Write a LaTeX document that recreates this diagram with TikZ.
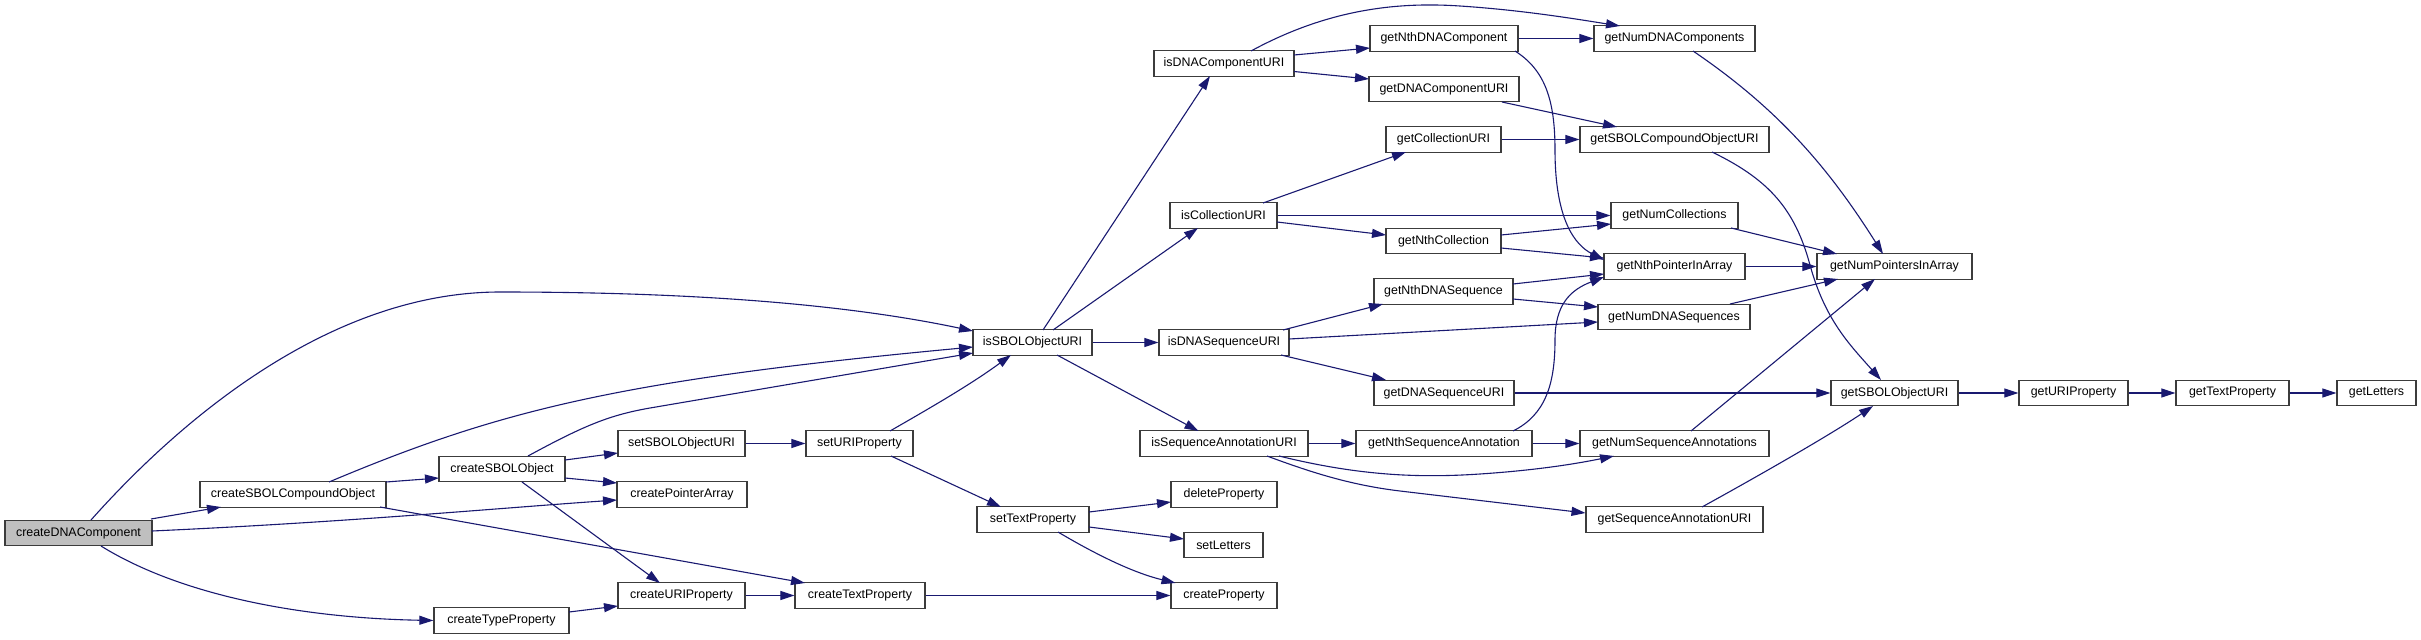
\documentclass[tikz,border=0pt]{standalone}
\usepackage{fontspec}
\setmainfont{Liberation Sans}
\usetikzlibrary{arrows.meta,calc}
\definecolor{edgec}{RGB}{25,25,112}
\definecolor{boxb}{RGB}{60,60,60}
\definecolor{rootfill}{RGB}{191,191,191}
\begin{document}
\begin{tikzpicture}[x=1pt,y=-1pt,
  box/.style={draw=boxb,line width=1.3pt,fill=white,rectangle,minimum height=25.5pt,inner sep=0pt,font=\fontsize{12.4}{14}\selectfont},
  root/.style={box,fill=rootfill},
  e/.style={draw=edgec,line width=1.1pt,-{Triangle[length=14pt,width=9pt]}}]
\useasboundingbox (0,0) rectangle (2421,640);
% nodes
\node[root,minimum width=147pt] (cDNA) at (78.5,533) {createDNAComponent};
\node[box,minimum width=186pt] (cSCO) at (293,494.5) {createSBOLCompoundObject};
\node[box,minimum width=126pt] (cSO) at (502,469) {createSBOLObject};
\node[box,minimum width=135pt] (cTypeP) at (501.5,620.5) {createTypeProperty};
\node[box,minimum width=127pt] (sSOU) at (681.5,443.5) {setSBOLObjectURI};
\node[box,minimum width=130pt] (cPA) at (682,494.5) {createPointerArray};
\node[box,minimum width=127pt] (cURIP) at (681.5,595.5) {createURIProperty};
\node[box,minimum width=107pt] (sURIP) at (859.5,443.5) {setURIProperty};
\node[box,minimum width=130pt] (cTextP) at (860,595.5) {createTextProperty};
\node[box,minimum width=119pt] (isSBOL) at (1032.5,342.5) {isSBOLObjectURI};
\node[box,minimum width=112pt] (sTP) at (1033,519.5) {setTextProperty};
\node[box,minimum width=140pt] (isDCU) at (1224,63.5) {isDNAComponentURI};
\node[box,minimum width=107pt] (isCU) at (1223.5,215.5) {isCollectionURI};
\node[box,minimum width=130pt] (isDSU) at (1224,342.5) {isDNASequenceURI};
\node[box,minimum width=168pt] (isSAU) at (1224,443.5) {isSequenceAnnotationURI};
\node[box,minimum width=106pt] (delP) at (1224,494.5) {deleteProperty};
\node[box,minimum width=79pt] (sL) at (1223.5,545) {setLetters};
\node[box,minimum width=106pt] (cP) at (1224,595.5) {createProperty};
\node[box,minimum width=148pt] (gNthDC) at (1444,38.5) {getNthDNAComponent};
\node[box,minimum width=150pt] (gDCU) at (1444,89) {getDNAComponentURI};
\node[box,minimum width=115pt] (gCU) at (1443.5,139.5) {getCollectionURI};
\node[box,minimum width=115pt] (gNthC) at (1443.5,241) {getNthCollection};
\node[box,minimum width=139pt] (gNthDS) at (1443.5,291.5) {getNthDNASequence};
\node[box,minimum width=140pt] (gDSU) at (1444,393) {getDNASequenceURI};
\node[box,minimum width=176pt] (gNthSA) at (1444,443.5) {getNthSequenceAnnotation};
\node[box,minimum width=161pt] (gNumDC) at (1674.5,38.5) {getNumDNAComponents};
\node[box,minimum width=189pt] (gSCOU) at (1674.5,139.5) {getSBOLCompoundObjectURI};
\node[box,minimum width=127pt] (gNumC) at (1674.5,215.5) {getNumCollections};
\node[box,minimum width=141pt] (gNPIA) at (1674.5,266.5) {getNthPointerInArray};
\node[box,minimum width=152pt] (gNumDS) at (1674,317) {getNumDNASequences};
\node[box,minimum width=189pt] (gNumSA) at (1674.5,443.5) {getNumSequenceAnnotations};
\node[box,minimum width=177pt] (gSAU) at (1674.5,519.5) {getSequenceAnnotationURI};
\node[box,minimum width=155pt] (gNumPIA) at (1894.5,266.5) {getNumPointersInArray};
\node[box,minimum width=127pt] (gSOU) at (1894.5,393) {getSBOLObjectURI};
\node[box,minimum width=109pt] (gURIP) at (2073.5,393) {getURIProperty};
\node[box,minimum width=113pt] (gTP) at (2232.5,393) {getTextProperty};
\node[box,minimum width=79pt] (gL) at (2376.5,393) {getLetters};
% edges
\draw[e] ($(cDNA)+(12.5,-13)$) .. controls (180,420) and (330,292) .. (500,292) .. controls (700,292) and (850,305) .. ($(isSBOL)+(-59.5,-11.5)$);
\draw[e] ($(cDNA)+(72.5,-14)$) -- ($(cSCO)+(-72,12.5)$);
\draw[e] ($(cDNA)+(73.5,-2)$) .. controls (350,522) and (500,508) .. ($(cPA)+(-65,5.5)$);
\draw[e] ($(cDNA)+(22.5,13)$) .. controls (180,595) and (300,618) .. (cTypeP.west);
\draw[e] ($(cSCO)+(36,-12.5)$) .. controls (500,410) and (620,380) .. ($(isSBOL)+(-59.5,4.5)$);
\draw[e] ($(cSCO)+(93,-12.5)$) -- ($(cSO)+(-63,9)$);
\draw[e] ($(cSCO)+(87,12.5)$) -- ($(cTextP)+(-55,-12.5)$);
\draw[e] ($(cSO)+(26,-13)$) .. controls (585,425) and (610,415) .. (650,408) -- ($(isSBOL)+(-59.5,10.5)$);
\draw[e] ($(cSO)+(63,-9)$) -- ($(sSOU)+(-63.5,9.5)$);
\draw[e] ($(cSO)+(63,9)$) -- ($(cPA)+(-65,-11.5)$);
\draw[e] ($(cSO)+(20,13)$) -- ($(cURIP)+(-21.5,-12.5)$);
\draw[e] ($(cTypeP)+(67.5,-8.5)$) -- ($(cURIP)+(-63.5,10.5)$);
\draw[e] (cURIP.east) -- (cTextP.west);
\draw[e] (cTextP.east) -- (cP.west);
\draw[e] (sSOU.east) -- (sURIP.west);
\draw[e] ($(sURIP)+(30.5,-12.5)$) .. controls (930,408) and (970,385) .. ($(isSBOL)+(-21.5,12.5)$);
\draw[e] ($(sURIP)+(31.5,12.5)$) -- ($(sTP)+(-32,-12.5)$);
\draw[e] ($(sTP)+(56,-7.5)$) -- ($(delP)+(-53,7.5)$);
\draw[e] ($(sTP)+(56,7.5)$) -- ($(sL)+(-39.5,-6)$);
\draw[e] ($(sTP)+(25,12.5)$) .. controls (1090,551) and (1130,572) .. ($(cP)+(-48.5,-12.5)$);
\draw[e] ($(isSBOL)+(10.5,-12.5)$) -- ($(isDCU)+(-14,12.5)$);
\draw[e] ($(isSBOL)+(20.5,-12.5)$) -- ($(isCU)+(-25.5,12.5)$);
\draw[e] (isSBOL.east) -- (isDSU.west);
\draw[e] ($(isSBOL)+(24.5,12.5)$) -- ($(isSAU)+(-25.5,-12.5)$);
\draw[e] ($(isDCU)+(27,-12.5)$) .. controls (1330,8) and (1400,2) .. (1460,6) .. controls (1520,10) and (1570,18) .. ($(gNumDC)+(-54.5,-12.5)$);
\draw[e] ($(isDCU)+(70,-8.5)$) -- ($(gNthDC)+(-74,9.5)$);
\draw[e] ($(isDCU)+(70,8)$) -- ($(gDCU)+(-75,-10)$);
\draw[e] (gNthDC.east) -- (gNumDC.west);
\draw[e] ($(gNthDC)+(71,12.5)$) .. controls (1545,70) and (1555,100) .. (1555,150) .. controls (1555,220) and (1575,245) .. ($(gNPIA)+(-70.5,-6.5)$);
\draw[e] ($(gDCU)+(58,13)$) -- ($(gSCOU)+(-57.5,-12.5)$);
\draw[e] (gCU.east) -- (gSCOU.west);
\draw[e] ($(isCU)+(39.5,-12.5)$) -- ($(gCU)+(-37.5,12.5)$);
\draw[e] (isCU.east) -- (gNumC.west);
\draw[e] ($(isCU)+(53.5,6.5)$) -- ($(gNthC)+(-57.5,-6)$);
\draw[e] ($(gNthC)+(57.5,-6)$) -- ($(gNumC)+(-63.5,8.5)$);
\draw[e] ($(gNthC)+(57.5,7)$) -- ($(gNPIA)+(-70.5,-8.5)$);
\draw[e] ($(gNumDC)+(18.5,12.5)$) .. controls (1780,110) and (1830,170) .. ($(gNumPIA)+(-11.5,-12.5)$);
\draw[e] ($(gSCOU)+(37.5,12.5)$) .. controls (1770,180) and (1795,210) .. (1810,265) .. controls (1825,320) and (1850,345) .. ($(gSOU)+(-13.5,-13)$);
\draw[e] ($(gNumC)+(56.5,12.5)$) -- ($(gNumPIA)+(-57.5,-12.5)$);
\draw[e] (gNPIA.east) -- (gNumPIA.west);
\draw[e] ($(isDSU)+(59,-12.5)$) -- ($(gNthDS)+(-60.5,12.5)$);
\draw[e] ($(isDSU)+(65,-3.5)$) -- ($(gNumDS)+(-76,5)$);
\draw[e] ($(isDSU)+(57,12.5)$) -- ($(gDSU)+(-58,-13)$);
\draw[e] ($(gNthDS)+(69.5,-7.5)$) -- ($(gNPIA)+(-70.5,7.5)$);
\draw[e] ($(gNthDS)+(69.5,7.5)$) -- ($(gNumDS)+(-76,-10)$);
\draw[e] ($(gNumDS)+(56,-13)$) -- ($(gNumPIA)+(-56.5,12.5)$);
\draw[e] (gDSU.east) -- (gSOU.west);
\draw[e] (isSAU.east) -- (gNthSA.west);
\draw[e] ($(isSAU)+(55,12.5)$) .. controls (1360,476) and (1420,478) .. (1480,474) .. controls (1540,470) and (1580,463) .. ($(gNumSA)+(-60.5,12.5)$);
\draw[e] ($(isSAU)+(43,12.5)$) .. controls (1310,472) and (1350,485) .. (1400,491) -- ($(gSAU)+(-89,-6.5)$);
\draw[e] ($(gNthSA)+(69,-12.5)$) .. controls (1545,415) and (1555,385) .. (1555,340) .. controls (1555,305) and (1570,290) .. ($(gNPIA)+(-70.5,10.5)$);
\draw[e] (gNthSA.east) -- (gNumSA.west);
\draw[e] ($(gNumSA)+(16.5,-12.5)$) -- ($(gNumPIA)+(-19.5,12.5)$);
\draw[e] ($(gSAU)+(27.5,-12.5)$) .. controls (1760,475) and (1830,435) .. ($(gSOU)+(-21.5,13)$);
\draw[e] (gSOU.east) -- (gURIP.west);
\draw[e] (gURIP.east) -- (gTP.west);
\draw[e] (gTP.east) -- (gL.west);
\end{tikzpicture}
\end{document}
